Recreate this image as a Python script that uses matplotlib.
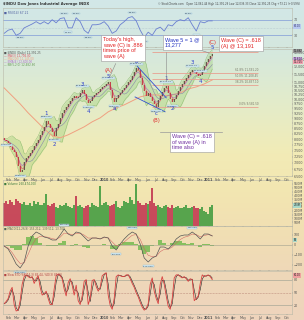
import numpy as np
import pandas as pd
import matplotlib
matplotlib.use("Agg")
import matplotlib.pyplot as plt
from matplotlib.colors import LinearSegmentedColormap

# weekly closes (mid Jan 2009 .. mid Jan 2011)
close = [7964, 7919, 7832, 7659, 7531, 7447, 7241, 6885, 6658, 6733,
         7041, 7200, 7282, 7405, 7531, 7702, 7832, 7964, 8191, 8376,
         8566, 8859, 8711, 8518, 8329, 8145, 8518, 8711, 9009, 9264,
         9422, 9581, 9743, 9908, 10076, 10190, 10076, 10133, 10362, 10538,
         10305, 9964, 9798, 9908, 10133, 10247, 10362, 10421, 10597, 10716,
         10777, 10898, 11021, 10538, 10076, 9853, 10076, 10247, 10362, 10538,
         10657, 10837, 11021, 11145, 11398, 11656, 11920, 11787, 11270, 10837,
         10479, 10190, 10362, 10133, 9908, 9743, 9581, 9964, 10190, 10421,
         10657, 10777, 10362, 10020, 9853, 10020, 10247, 10479, 10716, 10898,
         11083, 11270, 11462, 11656, 11787, 11721, 11526, 11398, 11462, 11787,
         12054, 12327, 12536, 12748, 12892]
volume = [300, 320, 290, 340, 310, 280, 350, 330, 300, 290,
          310, 280, 270, 300, 260, 330, 290, 310, 280, 270,
          300, 420, 280, 260, 290, 300, 250, 240, 270, 260,
          280, 300, 260, 250, 240, 270, 390, 260, 280, 250,
          240, 260, 270, 250, 300, 280, 260, 250, 520, 270,
          300, 310, 280, 260, 270, 290, 320, 250, 240, 260,
          330, 310, 300, 380, 340, 290, 550, 320, 300, 280,
          270, 300, 290, 330, 490, 300, 260, 270, 250, 240,
          260, 280, 250, 240, 270, 230, 250, 260, 240, 230,
          250, 270, 240, 230, 250, 260, 240, 230, 220, 250,
          200, 180, 160, 250, 270]
stoch_k = [24, 29, 36, 53, 62, 22, 7, 9, 31, 69,
           87, 91, 87, 84, 87, 71, 82, 89, 62, 44,
           47, 53, 36, 22, 22, 58, 89, 93, 89, 82,
           58, 42, 73, 82, 67, 44, 67, 31, 22, 42,
           76, 80, 22, 36, 78, 80, 64, 53, 62, 89,
           93, 96, 44, 20, 11, 36, 87, 91, 89, 87,
           87, 91, 91, 82, 71, 62, 49, 40, 27, 16,
           9, 13, 24, 69, 84, 53, 36, 24, 69, 87,
           69, 42, 18, 11, 36, 84, 91, 91, 87, 84,
           87, 82, 76, 82, 80, 31, 36, 42, 71, 91,
           87, 89, 91, 87, 80]
# every second week
rsi = [35, 43, 46, 30, 35, 49, 54, 59, 65, 59, 65, 59, 70, 62, 73, 75, 49, 49,
       75, 65, 43, 35, 57, 57, 59, 65, 54, 35, 41, 57, 65, 75, 78, 67, 43, 25,
       38, 30, 46, 51, 41, 57, 54, 65, 70, 67, 75, 57, 41, 65, 62, 67, 67]
macd = [-10, -40, -110, -190, -230, -170, -10, 90, 130, 110, 80, 70, 50, 50,
        100, 160, 110, 90, 130, 120, 80, 40, 70, 70, 60, 80, 70, -10, -50, 10,
        60, 100, 130, 110, 10, -130, -170, -130, -110, -20, -20, -40, 0, 60,
        90, 100, 100, 130, 100, 60, 110, 110, 90]
# every fourth week
ma200 = [10657, 10190, 9743, 9264, 8859, 8470, 8145, 8054, 8191, 8376, 8566,
         8810, 9009, 9317, 9528, 9689, 9908, 10133, 10247, 10247, 10190, 10247,
         10362, 10597, 10716, 10898, 11145]

fib_levels = [13037, 11591, 11208, 10837, 9581]
fib_labels = ["100.0% 13,037.33", "61.8% 11,591.20", "50.0% 11,208.45",
              "38.2% 10,837.10", "0.0% 9,581.50"]
fib_span = ["2010-06-18", "2011-06-24"]
trend_upper = (["2010-04-26", "2010-08-06"], [12050, 10080])
trend_lower = (["2010-04-19", "2010-08-02"], [10130, 9320])
time_span = (["2010-07-16", "2011-02-18"], 8330)

# (week index, text, colour, offset in points)
wave_labels = [(21, "1", "#2b3fd0", 5), (25, "2", "#2b3fd0", -6), (39, "3", "#2b3fd0", 4),
               (42, "4", "#2b3fd0", -6), (52, "5", "#2b3fd0", 4), (52, "(A)", "#e03030", 8.5),
               (55, "a", "#2b3fd0", -5), (66, "b", "#2b3fd0", 5), (76, "c", "#2b3fd0", -5),
               (76, "(B)", "#e03030", -10), (81, "1", "#2b3fd0", 5), (84, "2", "#2b3fd0", -5),
               (94, "3", "#2b3fd0", 5.5), (98, "4", "#2b3fd0", -4.5), (104, "5", "#2b3fd0", 4.5),
               (104, "(C)", "#e03030", 8.5)]
price_tags = [1, 8, 21, 25, 39, 42, 52, 55, 66, 76, 81, 84, 94, 98]
rsi_tags = [4, 15, 16, 18, 21, 27, 32, 35, 46, 48]
macd_tags = [4, 15, 28, 32, 36, 47]

weeks = pd.date_range("2009-01-16", periods=len(close), freq="W-FRI")
biweeks = weeks[::2]
fourweeks = weeks[::4]
c = pd.Series(close, index=weeks, dtype=float)
o = c.shift(1).fillna(c.iloc[0] * 1.01)
up = (c >= o).values

W, H = 304, 320
fig = plt.figure(figsize=(W / 100, H / 100), dpi=100)


def rect(top, bottom, left=3, right=292):
    return [left / W, 1 - bottom / H, (right - left) / W, (bottom - top) / H]


def fpos(x, y):
    return (x / W, 1 - y / H)


# background gradient
bg = fig.add_axes([0, 0, 1, 1], zorder=-10)
cmap = LinearSegmentedColormap.from_list(
    "bg", [(0.0, "#d2e7e8"), (0.16, "#d5e8de"), (0.32, "#e3ecca"), (0.48, "#f2ebb6"),
           (0.6, "#f3e6b1"), (0.72, "#f1dfb3"), (0.85, "#efd8b8"), (1.0, "#eed4bd")])
bg.imshow(np.linspace(0, 1, 256)[:, None], aspect="auto", cmap=cmap, extent=[0, 1, 0, 1])
bg.axis("off")

ax_rsi = fig.add_axes(rect(8, 47))
ax_px = fig.add_axes(rect(49, 176), sharex=ax_rsi)
ax_vol = fig.add_axes(rect(180, 226), sharex=ax_rsi)
ax_macd = fig.add_axes(rect(226, 270), sharex=ax_rsi)
ax_sto = fig.add_axes(rect(271, 314), sharex=ax_rsi)
axes = [ax_rsi, ax_px, ax_vol, ax_macd, ax_sto]
for ax in axes:
    ax.set_facecolor("none")
    for s in ax.spines.values():
        s.set_color("#b8b8a8")
        s.set_linewidth(0.4)
    ax.yaxis.tick_right()
    ax.tick_params(axis="y", labelsize=2.3, length=0.8, width=0.3, pad=0.6, colors="#555555")
    ax.tick_params(axis="x", labelsize=2.4, length=0.8, width=0.3, pad=0.6, colors="#555555")
ax_px.set_zorder(5)

ax_rsi.set_xlim(pd.Timestamp("2009-01-12"), pd.Timestamp("2011-10-20"))
months = pd.date_range("2009-02-01", "2011-10-01", freq="MS")
mlabels = [str(m.year) if m.month == 1 else m.strftime("%b") for m in months]
for ax in axes:
    ax.set_xticks(months)
for ax in [ax_px, ax_sto]:
    ax.set_xticklabels(mlabels)
    for t, m in zip(ax.get_xticklabels(), months):
        if m.month == 1:
            t.set_fontweight("bold")
for ax in [ax_rsi, ax_vol, ax_macd]:
    ax.tick_params(axis="x", labelbottom=False)

tagbox = dict(boxstyle="square,pad=0.15", fc="#d6ebf2", ec="#9cc0d2", lw=0.3)

# ---- RSI panel
ax_rsi.set_ylim(0, 100)
ax_rsi.set_yticks([30, 50, 70])
ax_rsi.axhline(70, color="#7f9ad8", lw=0.5)
ax_rsi.axhline(30, color="#7f9ad8", lw=0.5)
ax_rsi.axhline(50, color="#a8b8c8", lw=0.4, ls=":")
ax_rsi.plot(biweeks, rsi, color="#6a7fd0", lw=0.6)
for i in rsi_tags:
    dy = 3 if rsi[i] >= 50 else -3
    ax_rsi.annotate(f"{rsi[i]:.2f}", (biweeks[i], rsi[i]), xytext=(0, dy), textcoords="offset points",
                    ha="center", va="center", fontsize=1.7, color="#334455", bbox=tagbox)
ax_rsi.text(0.004, 0.93, "\u25a0 RSI(14) 67.21", transform=ax_rsi.transAxes, fontsize=2.2,
            color="#5060a0", va="top")
ax_rsi.annotate(f"{rsi[-1]:.2f}", (1, rsi[-1]), xycoords=("axes fraction", "data"), xytext=(1, -4),
                textcoords="offset points", fontsize=1.8, va="center", color="#333366",
                bbox=dict(boxstyle="square,pad=0.1", fc="#b8c8f0", ec="none"), annotation_clip=False)

# ---- price panel
ax_px.set_yscale("log")
ax_px.set_ylim(6510, 13258)
yt = [6500, 6750, 7000, 7250, 7500, 7750, 8000, 8250, 8500, 8750, 9000, 9250, 9500, 9750,
      10000, 10250, 10500, 10750, 11000, 11500, 12000, 12500, 13000]
ax_px.set_yticks(yt)
ax_px.set_yticklabels([f"{v:,}" for v in yt])
ax_px.yaxis.set_minor_locator(matplotlib.ticker.NullLocator())

mid = c.rolling(5, min_periods=1).mean()
sd = c.rolling(5, min_periods=2).std().bfill()
ax_px.fill_between(weeks, mid - 2 * sd, mid + 2 * sd, color="#a2d17e", alpha=0.42, lw=0, zorder=2)
ax_px.plot(weeks, mid - 2 * sd, color="#86b86a", lw=0.3, zorder=2)
ax_px.plot(weeks, mid + 2 * sd, color="#86b86a", lw=0.3, zorder=2)
ax_px.plot(fourweeks, ma200, color="#f0a080", lw=0.7, zorder=3)
ax_px.plot(weeks, c.rolling(8, min_periods=1).mean(), color="#8888aa", lw=0.4, zorder=3)
ax_px.plot(weeks, c.ewm(span=4).mean(), color="#b070c8", lw=0.4, zorder=3)
ax_px.plot(weeks, c.rolling(3, min_periods=1).mean(), color="#e05060", lw=0.4, zorder=3)
cand = np.where(up, "#5a4a40", "#c23040")
ax_px.bar(weeks, (c - o).abs(), bottom=np.minimum(c, o), width=3.5, color=cand, alpha=0.85,
          lw=0, zorder=4)
ax_px.vlines(weeks, np.minimum(c, o), np.maximum(c, o), color=cand, lw=0.3, zorder=4)

ax_px.plot(pd.to_datetime(trend_upper[0]), trend_upper[1], color="#3050d0", lw=0.6, zorder=5)
ax_px.plot(pd.to_datetime(trend_lower[0]), trend_lower[1], color="#3050d0", lw=0.6, zorder=5)

fs, fe = pd.to_datetime(fib_span)
ax_px.hlines(fib_levels, fs, fe, color="#e8a090", lw=0.6, zorder=3)
for lv, lb in zip(fib_levels, fib_labels):
    ax_px.text(fe, lv * 1.004, lb, fontsize=2.0, color="#777766", ha="right", va="bottom", zorder=3)

for i in price_tags:
    dy = 3 if close[i] >= close[i - 1] else -3
    ax_px.annotate(f"{close[i]:,.2f}", (weeks[i], close[i]), xytext=(0, dy), textcoords="offset points",
                   ha="center", va="center", fontsize=1.7, color="#334455", bbox=tagbox, zorder=6)
for i, txt, col, dy in wave_labels:
    ax_px.annotate(txt, (weeks[i], close[i]), xytext=(0, dy), textcoords="offset points",
                   ha="center", va="center", fontsize=4.0, color=col, zorder=7,
                   annotation_clip=False)

legend = [("\u25a0 $INDU (Daily) 12,391.25", "#555555"), ("\u2014 MA(3) 12,704.00", "#e05060"),
          ("\u2014 MA(200) 11,145.00", "#f0a080"), ("\u2014 EMA(4) 12,600.00", "#b070c8"),
          ("\u2014 BB(5,2.0) 12,482.80", "#669955")]
for k, (txt, col) in enumerate(legend):
    ax_px.text(0.004, 0.985 - k * 0.024, txt, transform=ax_px.transAxes, fontsize=2.0,
               color=col, va="top", zorder=6)

for val, fc, dy in [(close[-1], "#9a9a9a", 2), (c.ewm(span=4).mean().iloc[-1], "#c7a0e0", -1),
                    (c.rolling(3).mean().iloc[-1], "#f0a0b0", -4)]:
    ax_px.annotate(f"{val:,.0f}", (1, val), xycoords=("axes fraction", "data"), xytext=(1, dy),
                   textcoords="offset points", fontsize=1.8, va="center", color="#222222",
                   bbox=dict(boxstyle="square,pad=0.1", fc=fc, ec="none"), annotation_clip=False)

# annotation boxes
note = dict(fontsize=4.0, family="Liberation Sans", va="top", ha="left", linespacing=1.15,
            xycoords="data", textcoords="figure fraction",
            bbox=dict(boxstyle="square,pad=0.35", fc="white", ec="#999999", lw=0.4),
            arrowprops=dict(arrowstyle="-", color="#888888", lw=0.4), zorder=10)
ax_px.annotate("Today's high,\nwave (C) is .886\ntimes price of\nwave (A)", (weeks[52], close[52] * 1.01),
               xytext=fpos(103, 37), color="#e02020", **note)
ax_px.annotate("Wave 5 = 1 @\n13,277", (weeks[81], close[81] * 1.01), xytext=fpos(165, 37),
               color="#2030c0", **dict(note, arrowprops=dict(arrowstyle="-", color="#888888", lw=0.4,
                                                             relpos=(0.05, 0))))
ax_px.annotate("", (weeks[104], close[104]), xytext=fpos(197, 49), xycoords="data",
               textcoords="figure fraction", arrowprops=dict(arrowstyle="-", color="#888888", lw=0.4),
               annotation_clip=False)
ax_px.text(*fpos(221, 38), "Wave (C) = .618\n(A) @ 13,191", transform=fig.transFigure, fontsize=4.0,
           family="Liberation Sans", va="top", ha="left", linespacing=1.15, color="#e02020", zorder=10,
           bbox=dict(boxstyle="square,pad=0.35", fc="white", ec="#999999", lw=0.4))
ax_px.plot(pd.to_datetime(time_span[0]), [time_span[1]] * 2, color="#999999", lw=0.5, zorder=5)
ax_px.text(*fpos(172, 134), "Wave (C) = .618\nof wave (A) in\ntime also", transform=fig.transFigure,
           fontsize=4.0, family="Liberation Sans", va="top", ha="left", linespacing=1.15,
           color="#7030a0", zorder=10,
           bbox=dict(boxstyle="square,pad=0.35", fc="white", ec="#999999", lw=0.4))

# ---- volume panel
ax_vol.set_ylim(0, 600)
vt = list(range(50, 600, 50))
ax_vol.set_yticks(vt)
ax_vol.set_yticklabels([f"{v}M" for v in vt])
ax_vol.bar(weeks, volume, width=5.5, color=np.where(up, "#3c9a3c", "#c0304c"), alpha=0.85, lw=0)
ax_vol.text(0.004, 0.97, "\u25a0 Volume 260,474,000", transform=ax_vol.transAxes, fontsize=2.0,
            color="#3c7a3c", va="top")
ax_vol.annotate(f"{volume[-1]}M", (1, volume[-1]), xycoords=("axes fraction", "data"), xytext=(1, 0),
                textcoords="offset points", fontsize=1.8, va="center", color="#222222",
                bbox=dict(boxstyle="square,pad=0.1", fc="#a8d8c8", ec="none"), annotation_clip=False)

# ---- MACD panel
m = pd.Series(macd, index=biweeks, dtype=float)
signal = m.ewm(span=3).mean()
hist = m - signal
ax_macd.set_ylim(-250, 190)
ax_macd.set_yticks([-200, -100, 0, 100])
ax_macd.axhline(0, color="#a0a090", lw=0.4)
ax_macd.bar(biweeks, hist, width=13, color="#6db84a", alpha=0.8, lw=0)
ax_macd.plot(biweeks, signal, color="#d06060", lw=0.35)
ax_macd.plot(biweeks, m, color="#555555", lw=0.5)
for i in macd_tags:
    dy = 3 if macd[i] >= 0 else -3
    ax_macd.annotate(f"{macd[i]:.3f}", (biweeks[i], macd[i]), xytext=(0, dy), textcoords="offset points",
                     ha="center", va="center", fontsize=1.7, color="#334455", bbox=tagbox)
ax_macd.text(0.004, 0.97, "\u25a0 MACD(12,26,9) 153.212, 139.512, 13.700", transform=ax_macd.transAxes,
             fontsize=2.0, color="#556655", va="top")
ax_macd.annotate(f"{macd[-1]}", (1, macd[-1]), xycoords=("axes fraction", "data"), xytext=(1, -3),
                 textcoords="offset points", fontsize=1.8, va="center", color="#222222",
                 bbox=dict(boxstyle="square,pad=0.1", fc="#a8d8c8", ec="none"), annotation_clip=False)

# ---- stochastics panel
k = pd.Series(stoch_k, index=weeks, dtype=float)
ax_sto.set_ylim(0, 100)
ax_sto.set_yticks([20, 50, 80])
ax_sto.axhline(80, color="#a8a898", lw=0.5)
ax_sto.axhline(20, color="#a8a898", lw=0.5)
ax_sto.axhline(50, color="#c09080", lw=0.4, ls="--")
ax_sto.plot(weeks, k.rolling(2, min_periods=1).mean(), color="#222222", lw=0.4)
ax_sto.plot(weeks, k, color="#d84040", lw=0.6)
ax_sto.text(0.004, 0.95, "\u25a0 Slow STO %K(14,3) 83.44, %D(3) 85.83", transform=ax_sto.transAxes,
            fontsize=2.0, color="#b04040", va="top")
ax_sto.annotate(f"{stoch_k[-1]:.2f}", (1, stoch_k[-1]), xycoords=("axes fraction", "data"), xytext=(1, 3),
                textcoords="offset points", fontsize=1.8, va="center", color="#222222",
                bbox=dict(boxstyle="square,pad=0.1", fc="#f0a0a0", ec="none"), annotation_clip=False)

# header
fig.text(*fpos(3, 3.5), "$INDU Dow Jones Industrial Average INDX", fontsize=2.6, fontweight="bold",
         color="#333333", va="center")
fig.text(*fpos(300, 3.5), "\u00a9 StockCharts.com   Open 12,061.44 High 12,391.29 Low 12,039.33 "
         "Close 12,391.25 Chg +73.11 (+0.59%)", fontsize=1.9, color="#444444", va="center", ha="right")

fig.savefig("out.png", dpi=100)
